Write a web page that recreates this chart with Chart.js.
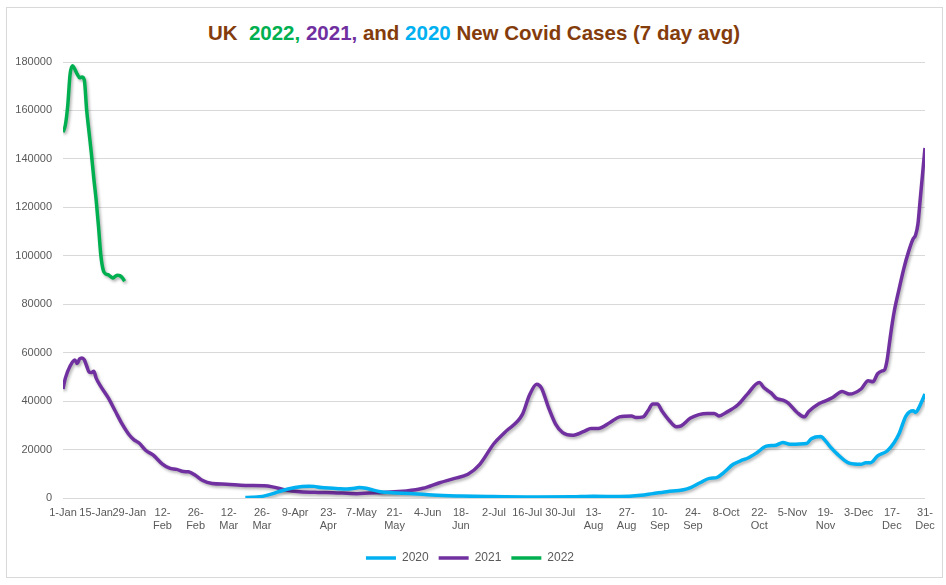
<!DOCTYPE html>
<html>
<head>
<meta charset="utf-8">
<script src="https://cdn.jsdelivr.net/npm/chart.js@4.4.1/dist/chart.umd.min.js"></script>
<style>
    body { margin: 0; background: #fff; }
    #wrap { position: relative; width: 946px; height: 585px; }
    #frame { position: absolute; left: 6px; top: 7px; width: 935px; height: 569px; border: 1px solid #d9d9d9; }
    #title {
        position: absolute; left: 0; top: 21px; width: 948px; text-align: center;
        font: bold 20.5px "Liberation Sans", Arial, sans-serif; color: #843c0c; white-space: pre;
    }
    #chart { position: absolute; left: 0; top: 0; }
</style>
</head>
<body>
<div id="wrap">
    <div id="frame"></div>
    <div id="title">UK  <span style="color:#00b050">2022,</span> <span style="color:#7030a0">2021,</span> and <span style="color:#00b0f0">2020</span> New Covid Cases (7 day avg)</div>
    <canvas id="chart" width="946" height="585"></canvas>
</div>
<script>
// x axis: day of year (0 = 1-Jan), labelled every 14 days
const tickDays = [0, 14, 28, 42, 56, 70, 84, 98, 112, 126, 140, 154, 168, 182, 196, 210, 224, 238, 252, 266, 280, 294, 308, 322, 336, 350, 364];
const tickLabels = ['1-Jan', '15-Jan', '29-Jan', ['12-', 'Feb'], ['26-', 'Feb'], ['12-', 'Mar'], ['26-', 'Mar'], '9-Apr', ['23-', 'Apr'], '7-May', ['21-', 'May'], '4-Jun', ['18-', 'Jun'], '2-Jul', '16-Jul', '30-Jul', ['13-', 'Aug'], ['27-', 'Aug'], ['10-', 'Sep'], ['24-', 'Sep'], '8-Oct', ['22-', 'Oct'], '5-Nov', ['19-', 'Nov'], '3-Dec', ['17-', 'Dec'], ['31-', 'Dec']];

// 2020 series
const days2020 = [77, 80, 83, 86, 89, 92, 95, 98, 101, 104, 106, 109, 114, 117, 120, 123, 125, 128, 130, 134, 139, 148, 156, 168, 179, 199, 215, 224, 235, 244, 249, 255, 262, 265, 269, 273, 276, 279, 283, 287, 289, 293, 297, 301, 304, 307, 314, 316, 320, 321, 324, 327, 332, 337, 339, 341, 344, 348, 351, 353, 356, 359, 360, 361, 364];
const cases2020 = [200, 300, 500, 1100, 1900, 2900, 3700, 4300, 4700, 4900, 4800, 4300, 4000, 3800, 3700, 4000, 4300, 4000, 3500, 2600, 2200, 1800, 1200, 800, 600, 400, 500, 700, 600, 1100, 1800, 2600, 3400, 4300, 6300, 8100, 8400, 10500, 13900, 15700, 16400, 18700, 21400, 21800, 22900, 22200, 22500, 24500, 25400, 24700, 21100, 18100, 14400, 13900, 14600, 14600, 17400, 19400, 22900, 26400, 33900, 36000, 35300, 36500, 42900];

// 2021 series
const days2021 = [0, 1, 3, 5, 6, 7, 8, 9, 10, 11, 12, 13, 14, 16, 19, 22, 25, 28, 30, 32, 35, 38, 42, 45, 48, 51, 53, 56, 59, 63, 69, 77, 85, 89, 94, 100, 108, 114, 124, 135, 140, 145, 152, 159, 165, 171, 176, 182, 187, 194, 197, 200, 202, 205, 208, 211, 215, 220, 223, 226, 231, 235, 240, 242, 245, 247, 249, 251, 253, 256, 259, 261, 265, 272, 275, 277, 280, 285, 289, 294, 296, 299, 301, 304, 306, 310, 313, 315, 319, 322, 325, 329, 332, 337, 340, 342, 344, 346, 347, 348, 349, 350, 351, 353, 355, 357, 359, 360, 361, 362, 363, 364];
const cases2021 = [45000, 49500, 54500, 57000, 55500, 57400, 57800, 57000, 54500, 52000, 51800, 52300, 49500, 46000, 41500, 36000, 30500, 26000, 24000, 22800, 19600, 17800, 14000, 12300, 11800, 10900, 10800, 9300, 7200, 6000, 5700, 5200, 5100, 4500, 3300, 2600, 2300, 2200, 1800, 2300, 2600, 2900, 4000, 6300, 8000, 9800, 13900, 22500, 27500, 34500, 42500, 47000, 45500, 37400, 30500, 27000, 25900, 27500, 28700, 28700, 31200, 33500, 33900, 33200, 33500, 36000, 38800, 38800, 35800, 32000, 29400, 29800, 33000, 34900, 34900, 33900, 35300, 38500, 42900, 47700, 45500, 43400, 41300, 40400, 39400, 35300, 33500, 35800, 38800, 40100, 41500, 44000, 42900, 45000, 48400, 48000, 51300, 52500, 53000, 57000, 64000, 71000, 77000, 86000, 94500, 101500, 107000, 108500, 113000, 123500, 134000, 144500];

// 2022 series
const days2022 = [0, 1, 2, 3, 4, 5, 6, 7, 8, 9, 10, 11, 12, 13, 14, 15, 16, 17, 18, 19, 20, 21, 22, 23, 24, 25, 26];
const cases2022 = [151000, 154000, 162000, 175000, 178500, 177000, 175000, 173500, 173800, 172500, 160000, 151000, 142000, 132000, 123000, 112000, 100000, 94000, 92500, 92200, 91500, 90800, 91500, 92000, 91800, 91000, 89500];

const toPoints = (xs, ys) => xs.map((x, i) => ({ x: x, y: ys[i] }));

const font = { family: '"Liberation Sans", Arial, sans-serif', size: 11 };

// soft drop shadow under each line, like the spreadsheet original
const lineShadow = {
    id: 'lineShadow',
    beforeDatasetDraw(chart) {
        const c = chart.ctx;
        c.save();
        c.shadowColor = 'rgba(0,0,0,0.3)';
        c.shadowBlur = 3;
        c.shadowOffsetX = 1.5;
        c.shadowOffsetY = 2;
    },
    afterDatasetDraw(chart) {
        chart.ctx.restore();
    }
};

const lineStyle = { borderWidth: 3.5, pointRadius: 0, pointHoverRadius: 0, fill: false, cubicInterpolationMode: 'monotone' };

new Chart(document.getElementById('chart'), {
    type: 'line',
    data: {
        datasets: [
            Object.assign({ label: '2020', data: toPoints(days2020, cases2020), borderColor: '#00b0f0', backgroundColor: '#00b0f0' }, lineStyle),
            Object.assign({ label: '2021', data: toPoints(days2021, cases2021), borderColor: '#7030a0', backgroundColor: '#7030a0' }, lineStyle),
            Object.assign({ label: '2022', data: toPoints(days2022, cases2022), borderColor: '#00b050', backgroundColor: '#00b050' }, lineStyle)
        ]
    },
    options: {
        responsive: false,
        animation: false,
        layout: { padding: { left: 15, right: 21, top: 62, bottom: 11 } },
        scales: {
            x: {
                type: 'linear',
                min: 0,
                max: 364,
                afterBuildTicks: (s) => { s.ticks = tickDays.map(v => ({ value: v })); },
                afterFit: (s) => { s.height = 44; },
                grid: { display: false, drawTicks: false },
                border: { display: false },
                ticks: {
                    autoSkip: false,
                    maxRotation: 0,
                    padding: 8,
                    color: '#595959',
                    font: font,
                    callback: (v, i) => tickLabels[i]
                }
            },
            y: {
                min: 0,
                max: 180000,
                afterFit: (s) => { s.width = 48; },
                grid: { color: '#d9d9d9', drawTicks: false },
                border: { display: false },
                ticks: {
                    stepSize: 20000,
                    padding: 11,
                    color: '#595959',
                    font: font,
                    callback: (v) => String(v)
                }
            }
        },
        plugins: {
            title: { display: false },
            tooltip: { enabled: false },
            legend: {
                position: 'bottom',
                labels: {
                    usePointStyle: true,
                    pointStyle: 'line',
                    pointStyleWidth: 30,
                    color: '#595959',
                    font: { family: font.family, size: 12 },
                    padding: 10
                }
            }
        }
    },
    plugins: [lineShadow]
});
</script>
</body>
</html>
